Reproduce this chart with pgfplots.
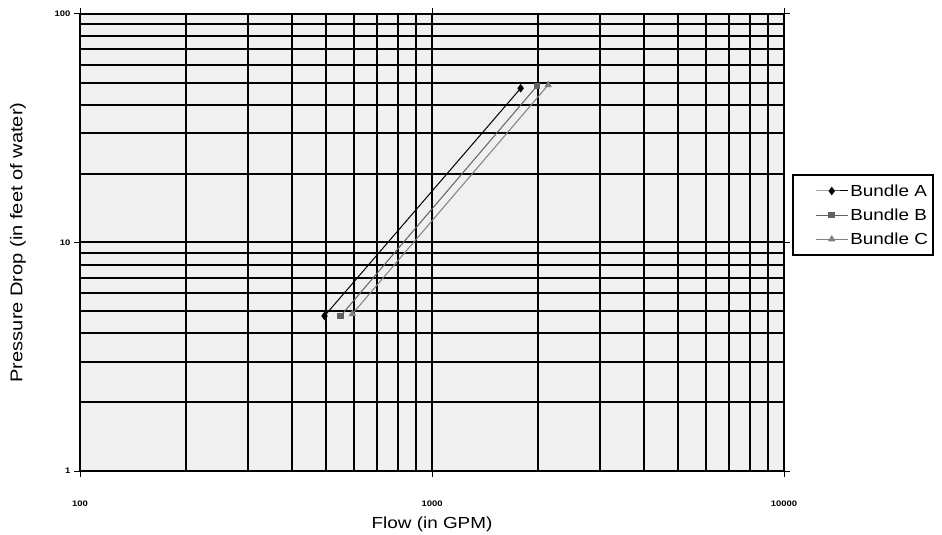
\documentclass[border=0pt]{standalone}
\usepackage{pgfplots}
\pgfplotsset{compat=1.18}
\usepackage{fontspec}
\setmainfont{Liberation Sans}[FakeStretch=1.18]
\begin{document}
\begin{tikzpicture}[x=1pt,y=1pt]
\begin{loglogaxis}[
  scale only axis, width=704pt, height=457pt,
  xmin=100, xmax=10000, ymin=1, ymax=100,
  xtick={100,1000,10000}, ytick={1,10,100},
  xticklabels={100,1000,10000}, yticklabels={1,10,100},
  grid=both,
  major grid style={black,line width=2pt},
  minor grid style={black,line width=2pt},
  axis line style={black,line width=2pt},
  axis background/.style={fill=black!6},
  tick align=outside, major tick length=6pt, minor tick length=0pt,
  tick style={black,line width=1pt},
  tick label style={font=\fontsize{8}{9}\selectfont\bfseries},
  xticklabel style={yshift=-20pt},
  xlabel={Flow (in GPM)},
  ylabel={Pressure Drop (in feet of water)},
  every axis x label/.style={at={(axis description cs:0.5,-0.116)},anchor=center,font=\fontsize{16}{18}\selectfont},
  every axis y label/.style={at={(axis description cs:-0.088,0.5)},rotate=90,anchor=center,font=\fontsize{17}{19}\selectfont},
  legend style={at={(1.011,0.56)},anchor=west,draw=black,line width=2pt,
    font=\fontsize{16}{19}\selectfont,fill=white,row sep=7pt,inner xsep=3pt,inner ysep=7pt},
  legend cell align=left,
  legend image code/.code={\path[draw=none] (0pt,0pt) -- (20pt,0pt); \draw[mark repeat=2,mark phase=2] plot coordinates {(20pt,0pt)(36pt,0pt)(52pt,0pt)};},
]
\addplot[black,line width=1pt,mark=diamond*,mark size=3.5pt,mark options={solid}] coordinates {(495,4.77) (1786,47.3)};
\addlegendentry{Bundle A}
\addplot[black!62,line width=1pt,mark=square*,mark size=2.8pt,mark options={solid}] coordinates {(550,4.77) (1987,48.4)};
\addlegendentry{Bundle B}
\addplot[black!50,line width=1pt,mark=triangle*,mark size=3.3pt,mark options={solid}] coordinates {(594,4.87) (2138,48.9)};
\addlegendentry{Bundle C}
\end{loglogaxis}
\pgfresetboundingbox
\path[use as bounding box] (-80,-64) rectangle (862,471);
\end{tikzpicture}
\end{document}
